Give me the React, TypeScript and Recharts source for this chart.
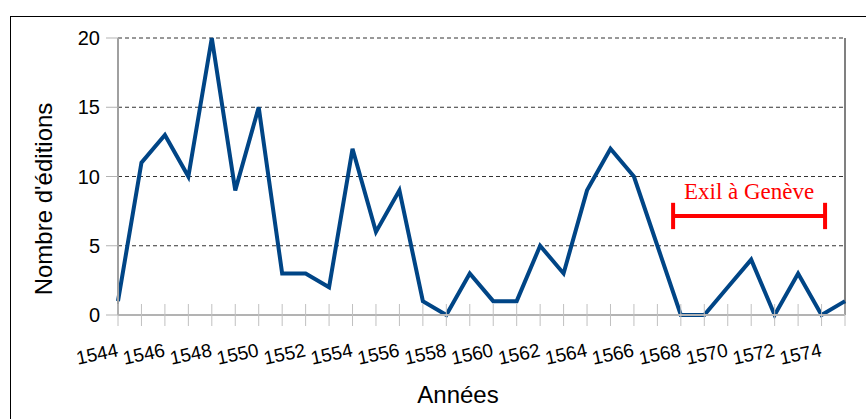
import React from "react";
import {
  LineChart,
  Line,
  XAxis,
  YAxis,
  CartesianGrid,
  ReferenceLine,
  Label,
} from "recharts";

// editions per year
const years = [
  1544, 1545, 1546, 1547, 1548, 1549, 1550, 1551, 1552, 1553, 1554, 1555,
  1556, 1557, 1558, 1559, 1560, 1561, 1562, 1563, 1564, 1565, 1566, 1567,
  1568, 1569, 1570, 1571, 1572, 1573, 1574, 1575,
];
const editions = [
  1, 11, 13, 10, 20, 9, 15, 3, 3, 2, 12, 6, 9, 1, 0, 3, 1, 1, 5, 3, 9, 12, 10,
  5, 0, 0, 2, 4, 0, 3, 0, 1,
];
const yTicks = [0, 5, 10, 15, 20];

// exile period bracket (in chart units)
const exilLabel = "Exil à Genève";
const exilStart = 1567.67;
const exilEnd = 1574.15;
const exilLevel = 7.15;
const exilCapLow = 6.2;
const exilCapHigh = 8.1;

const data = years.map((y, i) => ({ year: y, editions: editions[i] }));

const FONT = "'Liberation Sans', Arial, sans-serif";

const XTick = (props: any) => {
  const { x, y, payload } = props;
  const ty = y + 41;
  return (
    <g>
      <line x1={x} y1={y - 11} x2={x} y2={y + 11} stroke="#c0c0c0" />
      {payload.value % 2 === 0 && (
        <text
          x={x + 1}
          y={ty}
          textAnchor="end"
          transform={`rotate(-12 ${x + 1} ${ty})`}
          fontFamily={FONT}
          fontSize={19}
          fill="#000"
        >
          {payload.value}
        </text>
      )}
    </g>
  );
};

const YTitle = () => (
  <text
    x={52}
    y={199}
    transform="rotate(-90 52 199)"
    textAnchor="middle"
    fontFamily={FONT}
    fontSize={24}
    fill="#000"
  >
    Nombre d'éditions
  </text>
);

const XTitle = () => (
  <text
    x={458}
    y={403}
    textAnchor="middle"
    fontFamily={FONT}
    fontSize={24}
    fill="#000"
  >
    Années
  </text>
);

const ExilText = (props: any) => {
  const { viewBox } = props;
  return (
    <text
      x={viewBox.x + viewBox.width / 2}
      y={viewBox.y - 17}
      textAnchor="middle"
      fontFamily="'Liberation Serif', 'Times New Roman', serif"
      fontSize={23}
      fill="#ff0000"
    >
      {exilLabel}
    </text>
  );
};

export default function App() {
  return (
    <div
      style={{
        position: "absolute",
        left: 0,
        top: 0,
        width: 866,
        height: 419,
        overflow: "hidden",
        background: "#fff",
      }}
    >
      <div
        style={{
          position: "absolute",
          left: 10,
          top: 16,
          width: 920,
          height: 460,
          border: "1px solid #000",
        }}
      />
      <div style={{ position: "absolute", left: 0, top: 0 }}>
        <LineChart
          width={866}
          height={419}
          data={data}
          margin={{ top: 38, right: 21, bottom: 0, left: 0 }}
        >
          <CartesianGrid
            horizontal
            vertical={false}
            stroke="#333"
            strokeDasharray="4 3"
          />
          <XAxis
            dataKey="year"
            type="number"
            domain={[1544, 1575]}
            ticks={years}
            interval={0}
            height={104}
            tickSize={0}
            tickMargin={0}
            tickLine={false}
            axisLine={{ stroke: "#b3b3b3", strokeWidth: 2 }}
            tick={<XTick />}
          >
            <Label content={<XTitle />} />
          </XAxis>
          <YAxis
            domain={[0, 20]}
            ticks={yTicks}
            width={118}
            tickSize={12}
            tickMargin={6}
            tickLine={{ stroke: "#b3b3b3" }}
            axisLine={{ stroke: "#a0a0a0", strokeWidth: 2 }}
            tick={{ fill: "#000", fontSize: 20, fontFamily: FONT }}
          >
            <Label content={<YTitle />} />
          </YAxis>
          <ReferenceLine x={1575} stroke="#808080" strokeWidth={2} />
          <Line
            type="linear"
            dataKey="editions"
            stroke="#004586"
            strokeWidth={4}
            strokeLinejoin="miter"
            dot={false}
            isAnimationActive={false}
          />
          <ReferenceLine
            segment={[
              { x: exilStart, y: exilLevel },
              { x: exilEnd, y: exilLevel },
            ]}
            stroke="#ff0000"
            strokeWidth={4}
            label={<ExilText />}
          />
          <ReferenceLine
            segment={[
              { x: exilStart, y: exilCapLow },
              { x: exilStart, y: exilCapHigh },
            ]}
            stroke="#ff0000"
            strokeWidth={4}
          />
          <ReferenceLine
            segment={[
              { x: exilEnd, y: exilCapLow },
              { x: exilEnd, y: exilCapHigh },
            ]}
            stroke="#ff0000"
            strokeWidth={4}
          />
        </LineChart>
      </div>
    </div>
  );
}
